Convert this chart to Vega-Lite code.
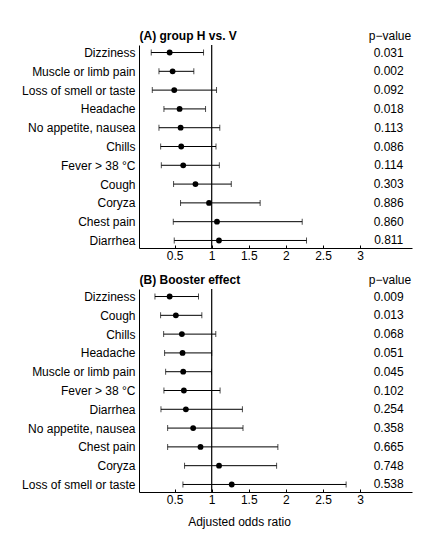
{
  "$schema": "https://vega.github.io/schema/vega-lite/v6.json",
  "description": "Adjusted odds ratios of symptoms, two panels",
  "background": "white",
  "padding": {"left": 21, "top": 29, "right": 5, "bottom": 5},
  "spacing": 12,
  "datasets": {
    "groupHV": [
      {"symptom": "Dizziness", "or": 0.433, "lo": 0.185, "hi": 0.890, "p": "0.031"},
      {"symptom": "Muscle or limb pain", "or": 0.473, "lo": 0.289, "hi": 0.759, "p": "0.002"},
      {"symptom": "Loss of smell or taste", "or": 0.495, "lo": 0.199, "hi": 1.065, "p": "0.092"},
      {"symptom": "Headache", "or": 0.567, "lo": 0.356, "hi": 0.917, "p": "0.018"},
      {"symptom": "No appetite, nausea", "or": 0.581, "lo": 0.289, "hi": 1.109, "p": "0.113"},
      {"symptom": "Chills", "or": 0.589, "lo": 0.312, "hi": 1.058, "p": "0.086"},
      {"symptom": "Fever > 38 °C", "or": 0.616, "lo": 0.321, "hi": 1.103, "p": "0.114"},
      {"symptom": "Cough", "or": 0.781, "lo": 0.486, "hi": 1.264, "p": "0.303"},
      {"symptom": "Coryza", "or": 0.964, "lo": 0.580, "hi": 1.653, "p": "0.886"},
      {"symptom": "Chest pain", "or": 1.071, "lo": 0.482, "hi": 2.220, "p": "0.860"},
      {"symptom": "Diarrhea", "or": 1.098, "lo": 0.495, "hi": 2.278, "p": "0.811"}
    ],
    "booster": [
      {"symptom": "Dizziness", "or": 0.433, "lo": 0.235, "hi": 0.822, "p": "0.009"},
      {"symptom": "Cough", "or": 0.517, "lo": 0.311, "hi": 0.867, "p": "0.013"},
      {"symptom": "Chills", "or": 0.598, "lo": 0.352, "hi": 1.055, "p": "0.068"},
      {"symptom": "Headache", "or": 0.607, "lo": 0.365, "hi": 1.000, "p": "0.051"},
      {"symptom": "Muscle or limb pain", "or": 0.616, "lo": 0.379, "hi": 0.997, "p": "0.045"},
      {"symptom": "Fever > 38 °C", "or": 0.625, "lo": 0.356, "hi": 1.113, "p": "0.102"},
      {"symptom": "Diarrhea", "or": 0.652, "lo": 0.316, "hi": 1.414, "p": "0.254"},
      {"symptom": "No appetite, nausea", "or": 0.750, "lo": 0.406, "hi": 1.422, "p": "0.358"},
      {"symptom": "Chest pain", "or": 0.849, "lo": 0.406, "hi": 1.892, "p": "0.665"},
      {"symptom": "Coryza", "or": 1.099, "lo": 0.634, "hi": 1.875, "p": "0.748"},
      {"symptom": "Loss of smell or taste", "or": 1.270, "lo": 0.612, "hi": 2.812, "p": "0.538"}
    ]
  },
  "vconcat": [
    {
      "width": 273,
      "height": 203,
      "data": {"name": "groupHV"},
      "layer": [
        {
          "data": {"values": [{}]},
          "mark": {"type": "rule", "color": "black", "strokeWidth": 1.2},
          "encoding": {
            "x": {
              "datum": 1, "type": "quantitative",
              "scale": {"domain": [0.02, 3.7], "nice": false, "zero": false},
              "axis": {"orient": "top", "domain": false, "ticks": false, "labels": false,
                       "title": "(A) group H vs. V", "titleFontWeight": "bold", "titleFontSize": 12,
                       "titleX": 0, "titleY": -6, "titleAlign": "left", "titleAnchor": null,
                       "titleBaseline": "alphabetic", "titleColor": "black"}
            }
          }
        },
        {
          "mark": {"type": "rule", "color": "black", "strokeWidth": 1},
          "encoding": {
            "x": {"field": "lo", "type": "quantitative", "axis": null},
            "x2": {"field": "hi"},
            "y": {"field": "symptom", "type": "nominal", "sort": null,
                  "scale": {"type": "point", "padding": 0.4},
                  "axis": {"title": null, "ticks": false, "labelPadding": 4, "labelFontSize": 12,
                           "labelColor": "black", "domainColor": "black", "domainWidth": 1}}
          }
        },
        {
          "mark": {"type": "tick", "orient": "vertical", "size": 6, "thickness": 1, "color": "black"},
          "encoding": {
            "x": {"field": "lo", "type": "quantitative", "axis": null},
            "y": {"field": "symptom", "type": "nominal", "sort": null}
          }
        },
        {
          "mark": {"type": "tick", "orient": "vertical", "size": 6, "thickness": 1, "color": "black"},
          "encoding": {
            "x": {"field": "hi", "type": "quantitative", "axis": null},
            "y": {"field": "symptom", "type": "nominal", "sort": null}
          }
        },
        {
          "mark": {"type": "circle", "color": "black", "opacity": 1, "size": 34},
          "encoding": {
            "x": {"field": "or", "type": "quantitative",
                  "axis": {"orient": "bottom", "values": [0.5, 1, 1.5, 2, 2.5, 3], "format": "~g",
                           "tickSize": -3, "labelPadding": 5, "labelFontSize": 12, "labelColor": "black",
                           "tickColor": "black", "domainColor": "black", "labelFlush": false,
                           "title": null}},
            "y": {"field": "symptom", "type": "nominal", "sort": null}
          }
        },
        {
          "mark": {"type": "text", "fontSize": 12, "color": "black", "align": "center", "baseline": "middle"},
          "encoding": {
            "x": {"datum": 3.386, "type": "quantitative",
                  "axis": {"orient": "top", "domain": false, "ticks": false, "labels": false,
                           "title": "p−value", "titleFontWeight": "normal", "titleFontSize": 12,
                           "titleX": 250.5, "titleY": -6, "titleAlign": "center", "titleAnchor": null,
                           "titleBaseline": "alphabetic", "titleColor": "black"}},
            "y": {"field": "symptom", "type": "nominal", "sort": null},
            "text": {"field": "p", "type": "nominal"}
          }
        }
      ]
    },
    {
      "width": 273,
      "height": 203,
      "data": {"name": "booster"},
      "layer": [
        {
          "data": {"values": [{}]},
          "mark": {"type": "rule", "color": "black", "strokeWidth": 1.2},
          "encoding": {
            "x": {
              "datum": 1, "type": "quantitative",
              "scale": {"domain": [0.02, 3.7], "nice": false, "zero": false},
              "axis": {"orient": "top", "domain": false, "ticks": false, "labels": false,
                       "title": "(B) Booster effect", "titleFontWeight": "bold", "titleFontSize": 12,
                       "titleX": 0, "titleY": -6, "titleAlign": "left", "titleAnchor": null,
                       "titleBaseline": "alphabetic", "titleColor": "black"}
            }
          }
        },
        {
          "mark": {"type": "rule", "color": "black", "strokeWidth": 1},
          "encoding": {
            "x": {"field": "lo", "type": "quantitative", "axis": null},
            "x2": {"field": "hi"},
            "y": {"field": "symptom", "type": "nominal", "sort": null,
                  "scale": {"type": "point", "padding": 0.4},
                  "axis": {"title": null, "ticks": false, "labelPadding": 4, "labelFontSize": 12,
                           "labelColor": "black", "domainColor": "black", "domainWidth": 1}}
          }
        },
        {
          "mark": {"type": "tick", "orient": "vertical", "size": 6, "thickness": 1, "color": "black"},
          "encoding": {
            "x": {"field": "lo", "type": "quantitative", "axis": null},
            "y": {"field": "symptom", "type": "nominal", "sort": null}
          }
        },
        {
          "mark": {"type": "tick", "orient": "vertical", "size": 6, "thickness": 1, "color": "black"},
          "encoding": {
            "x": {"field": "hi", "type": "quantitative", "axis": null},
            "y": {"field": "symptom", "type": "nominal", "sort": null}
          }
        },
        {
          "mark": {"type": "circle", "color": "black", "opacity": 1, "size": 34},
          "encoding": {
            "x": {"field": "or", "type": "quantitative",
                  "axis": {"orient": "bottom", "values": [0.5, 1, 1.5, 2, 2.5, 3], "format": "~g",
                           "tickSize": -3, "labelPadding": 5, "labelFontSize": 12, "labelColor": "black",
                           "tickColor": "black", "domainColor": "black", "labelFlush": false,
                           "title": "Adjusted odds ratio", "titleFontWeight": "normal", "titleFontSize": 12,
                           "titleColor": "black", "titleX": 100, "titleY": 33, "titleAlign": "center",
                           "titleAnchor": null, "titleBaseline": "alphabetic"}},
            "y": {"field": "symptom", "type": "nominal", "sort": null}
          }
        },
        {
          "mark": {"type": "text", "fontSize": 12, "color": "black", "align": "center", "baseline": "middle"},
          "encoding": {
            "x": {"datum": 3.386, "type": "quantitative",
                  "axis": {"orient": "top", "domain": false, "ticks": false, "labels": false,
                           "title": "p−value", "titleFontWeight": "normal", "titleFontSize": 12,
                           "titleX": 250.5, "titleY": -6, "titleAlign": "center", "titleAnchor": null,
                           "titleBaseline": "alphabetic", "titleColor": "black"}},
            "y": {"field": "symptom", "type": "nominal", "sort": null},
            "text": {"field": "p", "type": "nominal"}
          }
        }
      ]
    }
  ],
  "config": {
    "font": "Liberation Sans",
    "view": {"stroke": null},
    "axis": {"grid": false, "labelFont": "Liberation Sans", "titleFont": "Liberation Sans"},
    "text": {"font": "Liberation Sans"}
  }
}
